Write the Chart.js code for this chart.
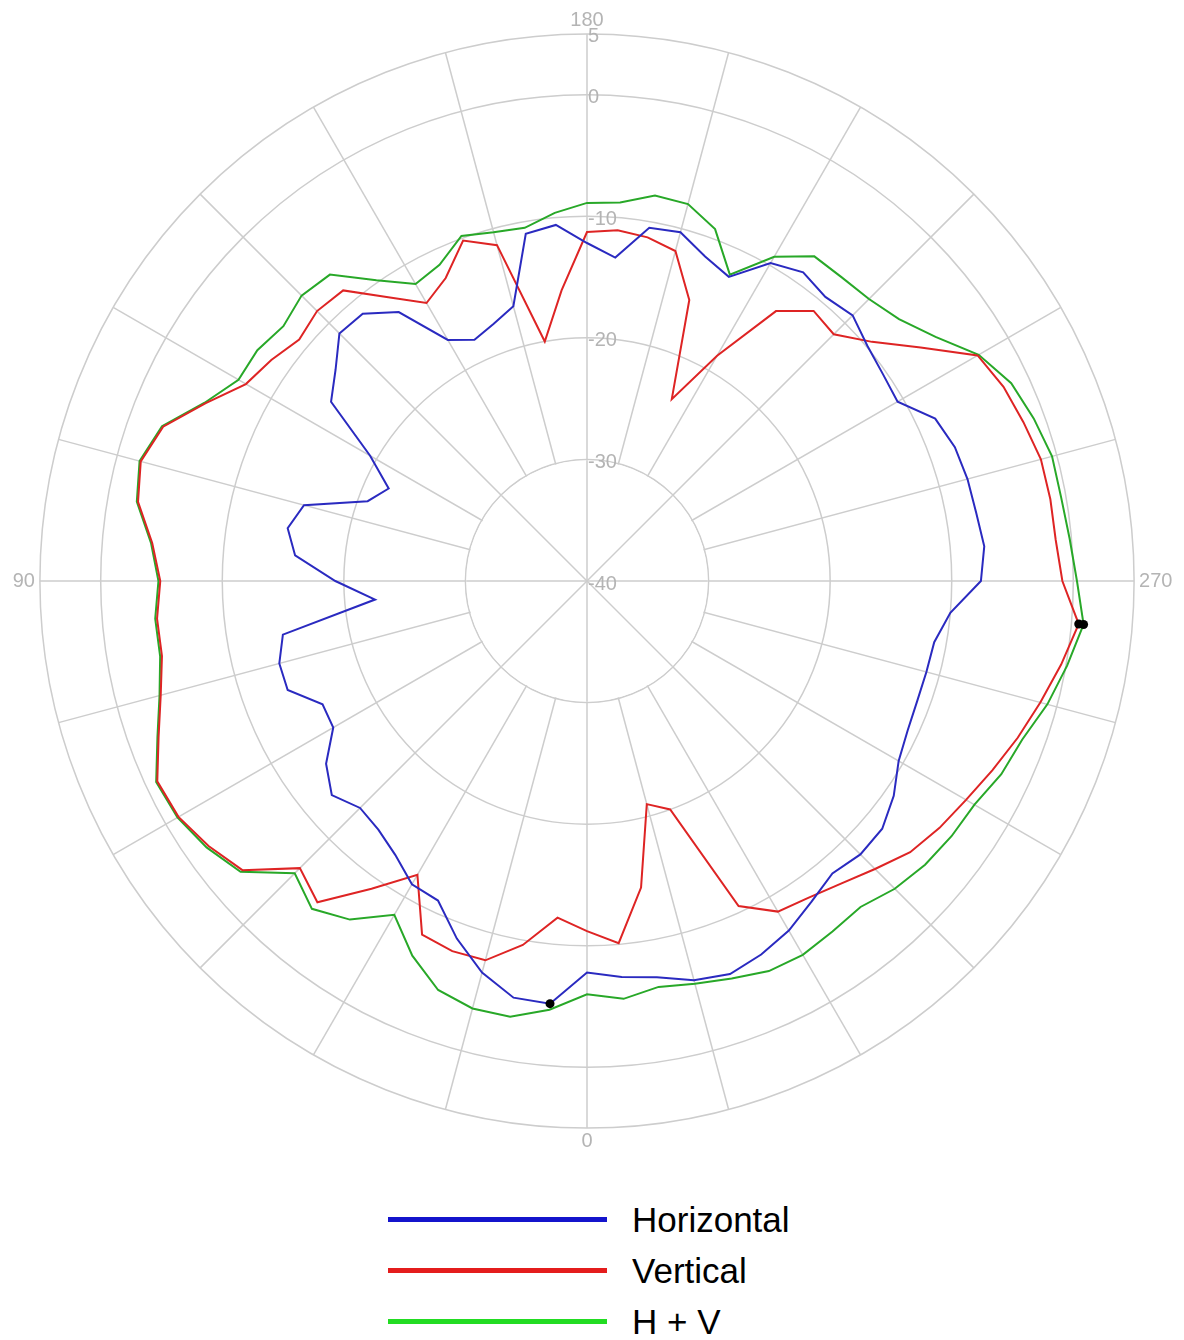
<!DOCTYPE html>
<html>
<head>
<meta charset="utf-8">
<script src="https://cdn.jsdelivr.net/npm/chart.js@4.4.1/dist/chart.umd.min.js"></script>
<style>
  body { margin: 0; background: #fff; }
  #wrap { position: relative; width: 1184px; height: 1340px; }
  #polar { position: absolute; left: 0; top: 0; }
  #legend {
    position: absolute; left: 388px; top: 1194px;
    font-family: "Liberation Sans", Arial, sans-serif; font-size: 35px; color: #000;
  }
  .item { display: flex; align-items: center; height: 51px; }
  .swatch { width: 219px; height: 5px; margin-right: 25px; }
</style>
</head>
<body>
<div id="wrap">
  <canvas id="polar" width="1184" height="1160"></canvas>
  <div id="legend"></div>
</div>
<script>
// Radiation pattern, level in dB every 5 degrees (0 at the bottom, clockwise)
const angles = [
  0, 5, 10, 15, 20, 25, 30, 35, 40, 45, 50, 55,
  60, 65, 70, 75, 80, 85, 90, 95, 100, 105, 110, 115,
  120, 125, 130, 135, 140, 145, 150, 155, 160, 165, 170, 175,
  180, 185, 190, 195, 200, 205, 210, 215, 220, 225, 230, 235,
  240, 245, 250, 255, 260, 265, 270, 275, 280, 285, 290, 295,
  300, 305, 310, 315, 320, 325, 330, 335, 340, 345, 350, 355
];
const horizontal = [
  -7.8, -5.1, -5.2, -6.65, -8.7, -11.0, -11.2, -12.5, -13.3, -13.6, -12.6, -13.8,
  -15.9, -16.0, -13.8, -13.8, -14.6, -22.5, -19.3, -15.9, -15.0, -15.9, -20.8, -22.0,
  -19.4, -14.3, -13.0, -11.2, -11.3, -13.0, -17.1, -18.1, -17.5, -16.6, -11.0, -10.6,
  -12.2, -13.3, -10.5, -10.3, -11.6, -12.4, -9.8, -9.0, -9.5, -9.1, -9.9, -10.3,
  -10.5, -8.4, -7.8, -7.6, -7.5, -7.2, -7.6, -10.0, -11.0, -11.1, -11.1, -10.9,
  -10.4, -9.2, -8.3, -8.2, -8.6, -7.8, -6.8, -6.1, -5.6, -6.0, -6.9, -7.3
];
const vertical = [
  -11.2, -12.2, -9.6, -7.7, -7.6, -7.9, -12.1, -9.1, -5.5, -6.6, -3.0, -2.0,
  -1.2, -1.0, -2.5, -3.7, -4.5, -4.5, -4.9, -4.1, -2.5, -2.0, -2.9, -5.4,
  -7.6, -8.3, -9.1, -8.6, -8.8, -11.5, -13.6, -12.5, -10.2, -11.4, -20.0, -16.0,
  -11.3, -11.05, -11.3, -11.9, -15.4, -23.5, -18.6, -12.9, -11.0, -11.3, -9.4, -6.5,
  -2.9, -2.2, -1.8, -1.35, -1.3, -1.3, -0.9, 0.6, -0.4, -1.4, -2.3, -3.2,
  -4.0, -4.6, -5.3, -6.5, -7.5, -8.2, -8.6, -10.5, -20.0, -21.0, -14.4, -10.1
];
const hPlusV = [
  -6.0, -4.6, -3.6, -3.6, -4.2, -6.0, -8.3, -6.0, -4.8, -6.0, -2.8, -1.8,
  -1.1, -0.9, -2.4, -3.6, -4.35, -4.35, -4.75, -4.0, -2.4, -1.9, -2.8, -5.3,
  -6.9, -6.9, -7.4, -6.8, -7.1, -9.8, -11.8, -11.3, -9.8, -10.3, -10.5, -9.6,
  -8.9, -8.75, -7.8, -7.9, -9.2, -12.2, -9.2, -7.4, -7.4, -7.2, -6.5, -5.0,
  -2.8, -1.5, -0.9, -0.4, -0.4, -0.15, 0.3, 1.0, 0.1, -0.8, -1.9, -2.4,
  -3.2, -3.4, -3.7, -4.2, -5.0, -4.8, -4.5, -4.6, -5.2, -5.7, -6.1, -5.5
];
const radialTicks = [-40, -30, -20, -10, 0, 5];
const angleTickLabels = [0, 90, 180, 270];

const gridColor = '#cdcdcd';
const labelColor = '#b4b4b4';

// the chart starts at the top (180) and runs clockwise
const start = angles.indexOf(180);
const order = angles.slice(start).concat(angles.slice(0, start));
const rotate = arr => order.map(a => arr[angles.indexOf(a)]);

function makeSet(label, values, color, keyColor) {
    const data = rotate(values);
    const peak = data.indexOf(Math.max(...data));
    return {
        label: label,
        data: data,
        borderColor: color,
        backgroundColor: color,
        keyColor: keyColor,
        borderWidth: 2,
        fill: false,
        pointRadius: ctx => (ctx.dataIndex === peak ? 4.5 : 0),
        pointBackgroundColor: '#000',
        pointBorderWidth: 0
    };
}

const datasets = [
    makeSet('Horizontal', horizontal, '#2a2ac0', '#1414cc'),
    makeSet('Vertical', vertical, '#de2424', '#e41c1c'),
    makeSet('H + V', hPlusV, '#28a828', '#22dc22')
];

// spokes off the diagonals start at the -30 ring, tick labels sit right of the top spoke
const polarExtras = {
    id: 'polarExtras',
    beforeDatasetsDraw(chart) {
        const r = chart.scales.r;
        const ctx = chart.ctx;
        const inner = r.getDistanceFromCenterForValue(-30) - 1;
        ctx.save();
        ctx.fillStyle = '#fff';
        ctx.beginPath();
        ctx.arc(r.xCenter, r.yCenter, inner, 0, Math.PI * 2);
        ctx.fill();
        ctx.strokeStyle = gridColor;
        ctx.lineWidth = 1.5;
        order.forEach((a, i) => {
            if (a % 45 !== 0) return;
            const p = r.getPointPosition(i, inner);
            ctx.beginPath();
            ctx.moveTo(r.xCenter, r.yCenter);
            ctx.lineTo(p.x, p.y);
            ctx.stroke();
        });
        ctx.font = '20px "Liberation Sans", Arial, sans-serif';
        ctx.fillStyle = labelColor;
        ctx.textAlign = 'left';
        ctx.textBaseline = 'middle';
        radialTicks.forEach(v => {
            const d = r.getDistanceFromCenterForValue(v);
            ctx.fillText(String(v), r.xCenter + 1, r.yCenter - d + 3);
        });
        ctx.restore();
    }
};

new Chart(document.getElementById('polar'), {
    type: 'radar',
    data: { labels: order, datasets: datasets },
    options: {
        responsive: false,
        animation: false,
        layout: { padding: { left: 2, top: 8, right: 0, bottom: 4 } },
        plugins: {
            legend: { display: false },
            tooltip: { enabled: false }
        },
        elements: { line: { tension: 0 } },
        scales: {
            r: {
                min: -40,
                max: 5,
                startAngle: 0,
                afterBuildTicks: scale => {
                    scale.ticks = radialTicks.map(v => ({ value: v }));
                },
                ticks: { display: false },
                grid: { circular: true, color: gridColor, lineWidth: 1.5 },
                angleLines: {
                    color: gridColor,
                    lineWidth: c => (order[c.index] % 15 === 0 ? 1.5 : 0)
                },
                pointLabels: {
                    callback: v => (angleTickLabels.includes(Number(v)) ? String(v) : ''),
                    color: labelColor,
                    font: { family: '"Liberation Sans", Arial, sans-serif', size: 20 },
                    padding: c => (order[c.index] % 180 === 0 ? 1 : 5)
                }
            }
        }
    },
    plugins: [polarExtras]
});

// legend below the chart, one row per series
const legend = document.getElementById('legend');
datasets.forEach(ds => {
    const row = document.createElement('div');
    row.className = 'item';
    const sw = document.createElement('span');
    sw.className = 'swatch';
    sw.style.background = ds.keyColor;
    const txt = document.createElement('span');
    txt.textContent = ds.label;
    row.appendChild(sw);
    row.appendChild(txt);
    legend.appendChild(row);
});
</script>
</body>
</html>
